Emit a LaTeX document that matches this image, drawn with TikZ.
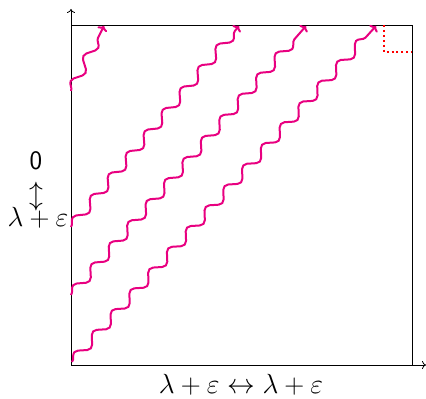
\documentclass[tikz,border=0pt]{standalone}
\usetikzlibrary{decorations.pathmorphing,arrows.meta}
\definecolor{wavepink}{RGB}{232,0,128}
\begin{document}
\begin{tikzpicture}[x=0.75pt,y=-0.75pt,
  axis/.style={line width=0.6pt,-{To[length=3pt,width=6pt]}},
  frame/.style={line width=0.6pt},
  wave/.style={wavepink,line width=1.5pt,-{To[length=3.5pt,width=8pt]},decorate,
    decoration={snake,segment length=21pt,amplitude=3.6pt,pre length=0pt,post length=3pt}},
  redline/.style={red,line width=1.5pt,dash pattern=on 1.5pt off 2.2pt},
  lbl/.style={inner sep=0pt,font=\fontsize{20}{24}\selectfont}]
\useasboundingbox (0,0) rectangle (426,399);
\coordinate (O) at (71,365);
\coordinate (Ytop) at (71,9);
\coordinate (Xend) at (426,365);
\draw[axis] (O) -- (Ytop);
\draw[axis] (O) -- (Xend);
\draw[frame] (71,25) coordinate (tl) -- (412,25) coordinate (tr) -- (412,365) coordinate (br);
% wavy lines
\coordinate (a0) at (72,362); \coordinate (a1) at (376,26);
\coordinate (b0) at (71,295); \coordinate (b1) at (306,26);
\coordinate (c0) at (71,227); \coordinate (c1) at (239,26);
\coordinate (d0) at (71,91);  \coordinate (d1) at (104,26);
\draw[wave] (a0) -- (a1);
\draw[wave] (b0) -- (b1);
\draw[wave] (c0) -- (c1);
\draw[wave] (d0) -- (d1);
% red dotted corner
\coordinate (r0) at (384,25); \coordinate (r1) at (384,52); \coordinate (r2) at (412,52);
\draw[redline] (r0) -- (r1) -- (r2);
% labels
\node[lbl] (zero) at (36,161) {\sffamily 0};
\node[lbl] (updown) at (36,197) {$\updownarrow$};
\node[lbl,anchor=base] (lamleft) at (38,227) {$\lambda+\varepsilon$};
\node[lbl,anchor=base] (bottom) at (241,394) {$\lambda+\varepsilon\leftrightarrow\lambda+\varepsilon$};
\end{tikzpicture}
\end{document}
